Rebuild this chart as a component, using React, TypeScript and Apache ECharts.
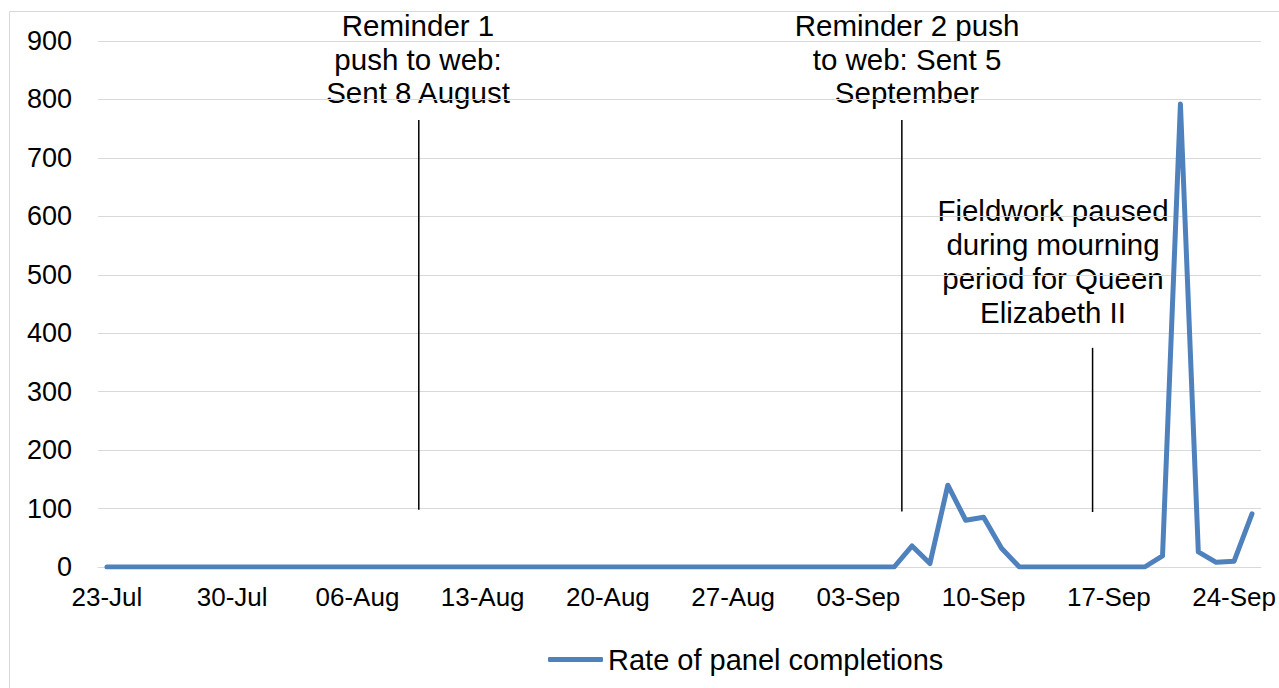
import React, { useEffect, useRef } from "react";
import * as echarts from "echarts";

const categories: string[] = [
  "23-Jul", "24-Jul", "25-Jul", "26-Jul", "27-Jul", "28-Jul", "29-Jul",
  "30-Jul", "31-Jul", "01-Aug", "02-Aug", "03-Aug", "04-Aug", "05-Aug",
  "06-Aug", "07-Aug", "08-Aug", "09-Aug", "10-Aug", "11-Aug", "12-Aug",
  "13-Aug", "14-Aug", "15-Aug", "16-Aug", "17-Aug", "18-Aug", "19-Aug",
  "20-Aug", "21-Aug", "22-Aug", "23-Aug", "24-Aug", "25-Aug", "26-Aug",
  "27-Aug", "28-Aug", "29-Aug", "30-Aug", "31-Aug", "01-Sep", "02-Sep",
  "03-Sep", "04-Sep", "05-Sep", "06-Sep", "07-Sep", "08-Sep", "09-Sep",
  "10-Sep", "11-Sep", "12-Sep", "13-Sep", "14-Sep", "15-Sep", "16-Sep",
  "17-Sep", "18-Sep", "19-Sep", "20-Sep", "21-Sep", "22-Sep", "23-Sep",
  "24-Sep", "25-Sep",
];

const completions: number[] = [
  0, 0, 0, 0, 0, 0, 0,
  0, 0, 0, 0, 0, 0, 0,
  0, 0, 0, 0, 0, 0, 0,
  0, 0, 0, 0, 0, 0, 0,
  0, 0, 0, 0, 0, 0, 0,
  0, 0, 0, 0, 0, 0, 0,
  0, 0, 0, 36, 6, 140, 80,
  85, 32, 0, 0, 0, 0, 0,
  0, 0, 0, 19, 792, 26, 8,
  10, 91,
];

const seriesName = "Rate of panel completions";

// Event markers: [day position (index, may be fractional), value]
const reminder1: number[][] = [[17.43, 98], [17.43, 765]];
const reminder2: number[][] = [[44.43, 95], [44.43, 765]];
const pauseMark: number[][] = [[55.09, 94], [55.09, 375]];

const annotation1 = "Reminder 1\npush to web:\nSent 8 August";
const annotation2 = "Reminder 2 push\nto web: Sent 5\nSeptember";
const annotation3 = "Fieldwork paused\nduring mourning\nperiod for Queen\nElizabeth II";

const FONT = "'Liberation Sans', Arial, sans-serif";

export default function App() {
  const ref = useRef<HTMLDivElement>(null);

  useEffect(() => {
    if (!ref.current) return;
    const chart = echarts.init(ref.current, undefined, { renderer: "svg" });
    const markerSeries = (d: number[][]) => ({
      type: "line",
      xAxisIndex: 1,
      yAxisIndex: 0,
      data: d,
      symbol: "none",
      silent: true,
      lineStyle: { color: "#000000", width: 1.5 },
      z: 1,
    });
    const annText = (text: string, x: number, y: number, lh: number) => ({
      type: "text",
      x,
      y,
      style: {
        text,
        font: `29.5px ${FONT}`,
        fill: "#000000",
        align: "center",
        verticalAlign: "middle",
        lineHeight: lh,
      },
    });
    chart.setOption({
      animation: false,
      textStyle: { fontFamily: FONT },
      grid: { left: 98, right: 16, top: 41, bottom: 121, containLabel: false },
      legend: {
        data: [{ name: seriesName, icon: "roundRect" }],
        left: 548,
        top: 645,
        padding: 0,
        itemWidth: 55,
        itemHeight: 5,
        itemGap: 5,
        textStyle: { fontSize: 29, color: "#000000", fontFamily: FONT },
      },
      xAxis: [
        {
          type: "category",
          data: categories,
          boundaryGap: true,
          axisLine: { show: true, lineStyle: { color: "#d9d9d9", width: 1 } },
          axisTick: { show: false },
          splitLine: { show: false },
          axisLabel: {
            interval: 6,
            margin: 17,
            fontSize: 26,
            color: "#000000",
            fontFamily: FONT,
          },
        },
        {
          type: "value",
          min: -0.5,
          max: 64.5,
          show: false,
        },
      ],
      yAxis: {
        type: "value",
        min: 0,
        max: 900,
        interval: 100,
        axisLine: { show: false },
        axisTick: { show: false },
        splitLine: { lineStyle: { color: "#d9d9d9", width: 1 } },
        axisLabel: {
          margin: 26,
          fontSize: 27,
          color: "#000000",
          fontFamily: FONT,
        },
      },
      series: [
        {
          name: seriesName,
          type: "line",
          data: completions,
          symbol: "none",
          lineStyle: { color: "#4f81bd", width: 5, cap: "round", join: "round" },
          itemStyle: { color: "#4f81bd" },
          z: 3,
        },
        markerSeries(reminder1),
        markerSeries(reminder2),
        markerSeries(pauseMark),
      ],
      graphic: [
        {
          type: "rect",
          shape: { x: 9.5, y: 11.5, width: 1300, height: 700 },
          style: { fill: "none", stroke: "#d9d9d9", lineWidth: 1 },
          silent: true,
          z: -10,
        },
        annText(annotation1, 418, 59, 33.5),
        annText(annotation2, 907, 59, 33.5),
        annText(annotation3, 1053, 261, 34),
      ],
    });
    return () => chart.dispose();
  }, []);

  return (
    <div
      ref={ref}
      style={{ position: "fixed", left: 0, top: 0, width: 1279, height: 688, background: "#ffffff" }}
    />
  );
}
